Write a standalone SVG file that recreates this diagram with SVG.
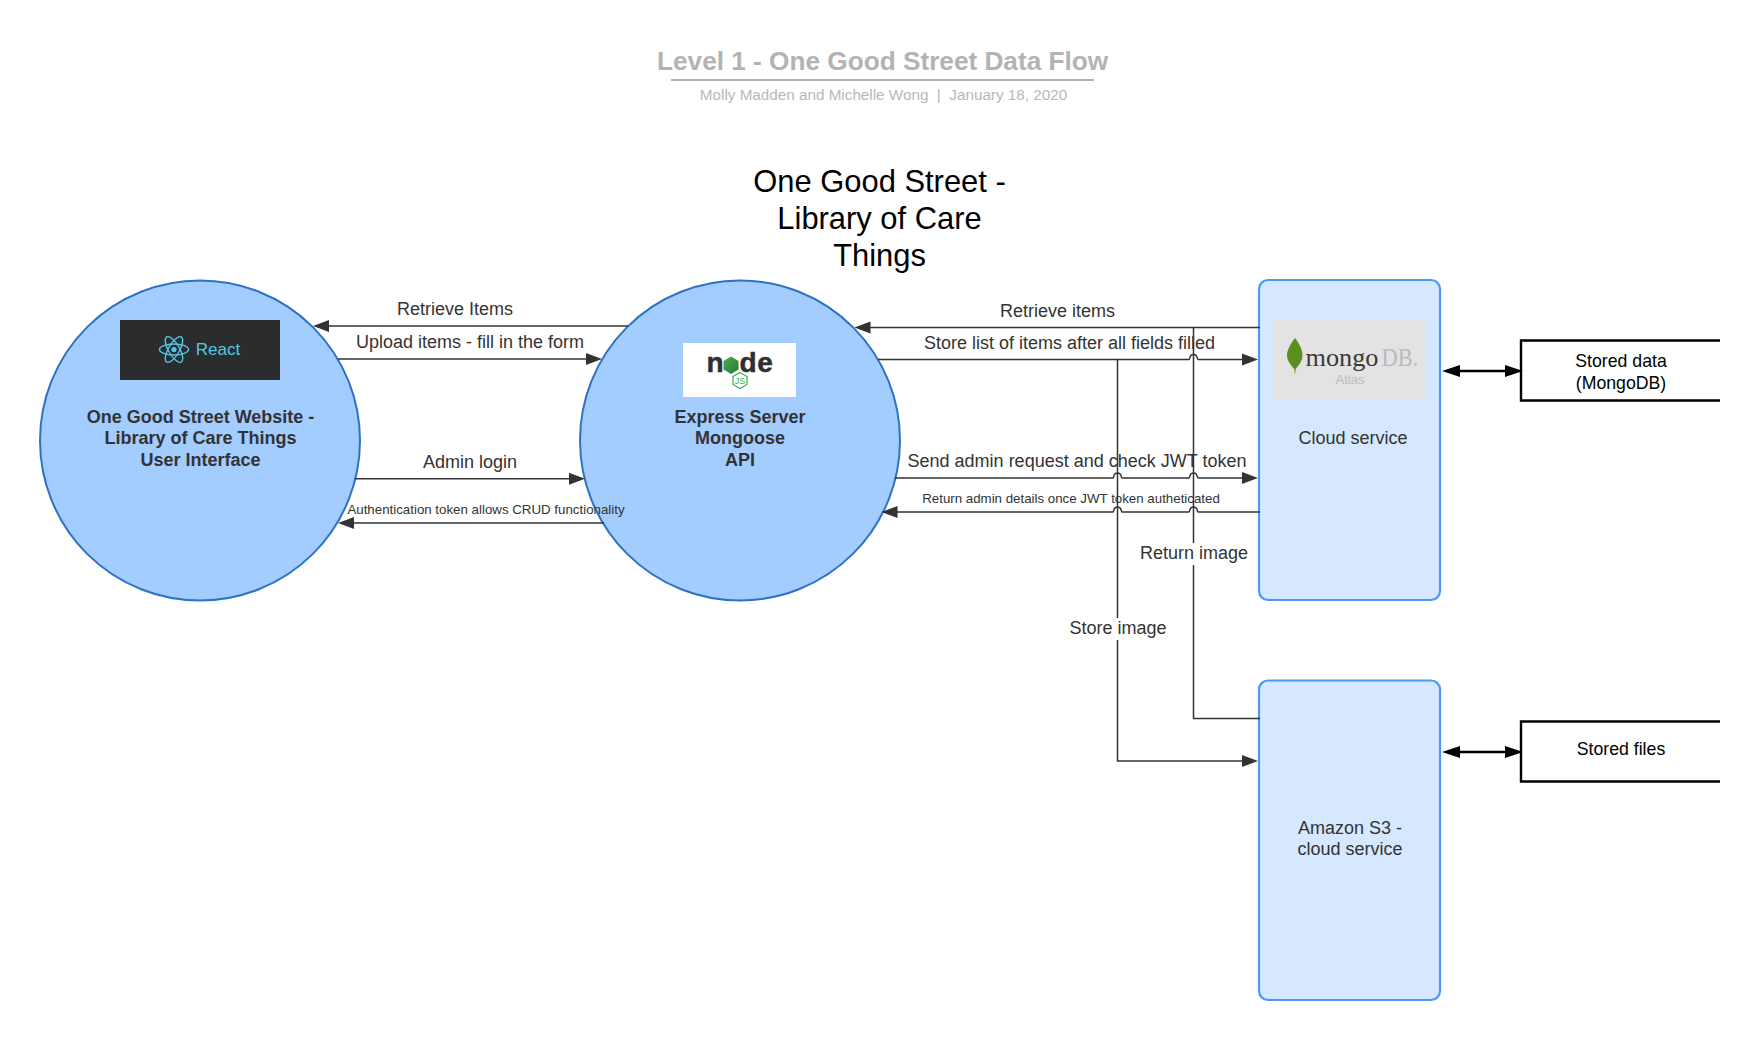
<svg xmlns="http://www.w3.org/2000/svg" width="1760" height="1040" viewBox="0 0 1760 1040">
<style>
text{font-family:"Liberation Sans",Arial,sans-serif;text-anchor:middle}
.c{fill:#a3ccff;stroke:#2d72c4;stroke-width:2}
.b{fill:#d5e8ff;stroke:#4a98fc;stroke-width:2.2}
.n{font-size:18px;font-weight:bold;fill:#333}
.t{font-size:18px;fill:#333}
.l{font-size:18px;fill:#333}
.s{font-size:13.300px;fill:#333}
.k{font-size:17.700px;fill:#000}
.w{fill:none;stroke:#333;stroke-width:1.5}
.d{fill:none;stroke:#000;stroke-width:2.4}
.o{fill:none;stroke:#000;stroke-width:2.4}
.r{fill:none;stroke:#53c8e4;stroke-width:1.4}
.g{font-size:28px;font-weight:bold;fill:#2f2f2f;stroke:#2f2f2f;stroke-width:.5}
</style>
<defs>
<marker id="a" markerUnits="userSpaceOnUse" markerWidth="16" markerHeight="13" refX="12" refY="6.5" orient="auto"><polygon points="0,0.5 16,6.5 0,12.5" fill="#333"/></marker>
<marker id="bs" markerUnits="userSpaceOnUse" markerWidth="18" markerHeight="13" refX="12" refY="6.5" orient="auto-start-reverse"><polygon points="0,0.5 18,6.5 0,12.5" fill="#000"/></marker>
<linearGradient id="g" x1="0" y1="0" x2="1" y2="1"><stop offset="0" stop-color="#56a845"/><stop offset="1" stop-color="#1a7d3c"/></linearGradient>
</defs>
<g id="title">
<text x="882.600" y="70" font-size="26.200" font-weight="bold" fill="#b3b3b3">Level 1 - One Good Street Data Flow</text>
<rect x="671" y="79" width="423" height="2" fill="#b3b3b3"/>
<text x="883.500" y="100" font-size="15.250" fill="#b8b8b8" xml:space="preserve">Molly Madden and Michelle Wong  |  January 18, 2020</text>
</g>
<g id="heading" font-size="30.900" fill="#000">
<text x="879.500" y="192">One Good Street -</text>
<text x="879.500" y="229">Library of Care</text>
<text x="879.500" y="266">Things</text>
</g>
<g id="node-website">
<circle class="c" cx="200" cy="440.500" r="160"/>
<rect x="120" y="320" width="160" height="60" fill="#2a2c2e"/>
<ellipse class="r" cx="174" cy="349.500" rx="14.500" ry="5.500"/>
<ellipse class="r" cx="174" cy="349.500" rx="14.500" ry="5.500" transform="rotate(60 174 349.500)"/>
<ellipse class="r" cx="174" cy="349.500" rx="14.500" ry="5.500" transform="rotate(120 174 349.500)"/>
<circle cx="174" cy="349.500" r="2.600" fill="#53c8e4"/>
<text x="218" y="354.500" font-size="17" fill="#53c8e4">React</text>
<text class="n" x="200.500" y="423">One Good Street Website -</text>
<text class="n" x="200.500" y="444">Library of Care Things</text>
<text class="n" x="200.500" y="466">User Interface</text>
</g>
<g id="node-api">
<circle class="c" cx="740" cy="440.500" r="160"/>
<rect x="683" y="343" width="113" height="54" fill="#fff"/>
<text class="g" x="715" y="372">n</text>
<polygon points="731,356.500 738.500,361 738.500,369.500 731,374 723.500,369.500 723.500,361" fill="url(#g)"/>
<text class="g" x="748" y="372">d</text>
<text class="g" x="765" y="372">e</text>
<polygon points="740,372.500 747,376.500 747,384.500 740,388.500 733,384.500 733,376.500" fill="none" stroke="#3fae49" stroke-width="1.200"/>
<text x="740" y="384" font-size="9" fill="#3fae49">JS</text>
<text class="n" x="740" y="423">Express Server</text>
<text class="n" x="740" y="444">Mongoose</text>
<text class="n" x="740" y="466">API</text>
</g>
<g id="node-cloud">
<rect class="b" x="1259" y="280" width="181" height="320" rx="9"/>
<rect x="1274" y="320" width="151" height="79" fill="#e3e3e3"/>
<path d="M1295,338 C1289.500,345 1287,351 1287,355 C1287,361 1291,365 1294.300,369 L1295,375 L1295.700,369 C1299,365 1302.500,361 1302.500,355 C1302.500,350 1299,343 1295,338 Z" fill="#5b8f1f"/>
<text x="1342" y="366" font-size="26" fill="#3d3939" textLength="73" lengthAdjust="spacingAndGlyphs" style="font-family:'Liberation Serif',serif">mongo</text>
<text x="1400" y="366" font-size="25" fill="#bdb9b9" textLength="37" lengthAdjust="spacingAndGlyphs" style="font-family:'Liberation Serif',serif">DB.</text>
<text x="1350" y="384" font-size="13" fill="#bcbcbc">Atlas</text>
<text class="t" x="1353" y="444">Cloud service</text>
</g>
<g id="node-s3">
<rect class="b" x="1259" y="680.500" width="181" height="319.500" rx="9"/>
<text class="t" x="1350" y="834">Amazon S3 -</text>
<text class="t" x="1350" y="855">cloud service</text>
</g>
<g id="node-stored-data">
<path class="o" d="M1720,340.500 H1521 V400.500 H1720"/>
<text class="k" x="1621" y="366.500">Stored data</text>
<text class="k" x="1621" y="389">(MongoDB)</text>
</g>
<g id="node-stored-files">
<path class="o" d="M1720,721.500 H1521 V781.500 H1720"/>
<text class="k" x="1621" y="755">Stored files</text>
</g>
<g id="connectors">
<line class="w" x1="628" y1="326" x2="317" y2="326" marker-end="url(#a)"/>
<line class="w" x1="338" y1="359" x2="598" y2="359" marker-end="url(#a)"/>
<line class="w" x1="355" y1="478.700" x2="581" y2="478.700" marker-end="url(#a)"/>
<line class="w" x1="604" y1="523" x2="342" y2="523" marker-end="url(#a)"/>
<line class="w" x1="1260" y1="327.500" x2="858.500" y2="327.500" marker-end="url(#a)"/>
<path class="w" d="M878,359.500 H1189 C1190,359.500 1189,354.500 1193.500,354.500 C1198,354.500 1197,359.500 1198,359.500 H1254" marker-end="url(#a)"/>
<path class="w" d="M895,478 H1113 C1114,478 1113,473 1117.500,473 C1122,473 1121,478 1122,478 H1189 C1190,478 1189,473 1193.500,473 C1198,473 1197,478 1198,478 H1254" marker-end="url(#a)"/>
<path class="w" d="M1260,512 H1198 C1197,512 1198,507 1193.500,507 C1189,507 1190,512 1189,512 H1122 C1121,512 1122,507 1117.500,507 C1113,507 1114,512 1113,512 H885.500" marker-end="url(#a)"/>
<path class="w" d="M1260,718.500 H1193.500 V327.500"/>
<path class="w" d="M1117.500,359.500 V761 H1254" marker-end="url(#a)"/>
<line class="d" x1="1517" y1="371" x2="1448" y2="371" marker-start="url(#bs)" marker-end="url(#bs)"/>
<line class="d" x1="1517" y1="752" x2="1448" y2="752" marker-start="url(#bs)" marker-end="url(#bs)"/>
<rect x="1141" y="543" width="112" height="22" fill="#fff"/>
<rect x="1069" y="618" width="100" height="22" fill="#fff"/>
<text class="l" x="455" y="314.500">Retrieve Items</text>
<text class="l" x="470" y="348">Upload items - fill in the form</text>
<text class="l" x="470" y="468">Admin login</text>
<text class="s" x="486" y="514">Authentication token allows CRUD functionality</text>
<text class="l" x="1057.500" y="317">Retrieve items</text>
<text class="l" x="1069.500" y="349">Store list of items after all fields filled</text>
<text class="l" x="1077" y="467">Send admin request and check JWT token</text>
<text class="s" x="1071" y="503">Return admin details once JWT token autheticated</text>
<text class="l" x="1194" y="559">Return image</text>
<text class="l" x="1118" y="634">Store image</text>
</g>
</svg>
